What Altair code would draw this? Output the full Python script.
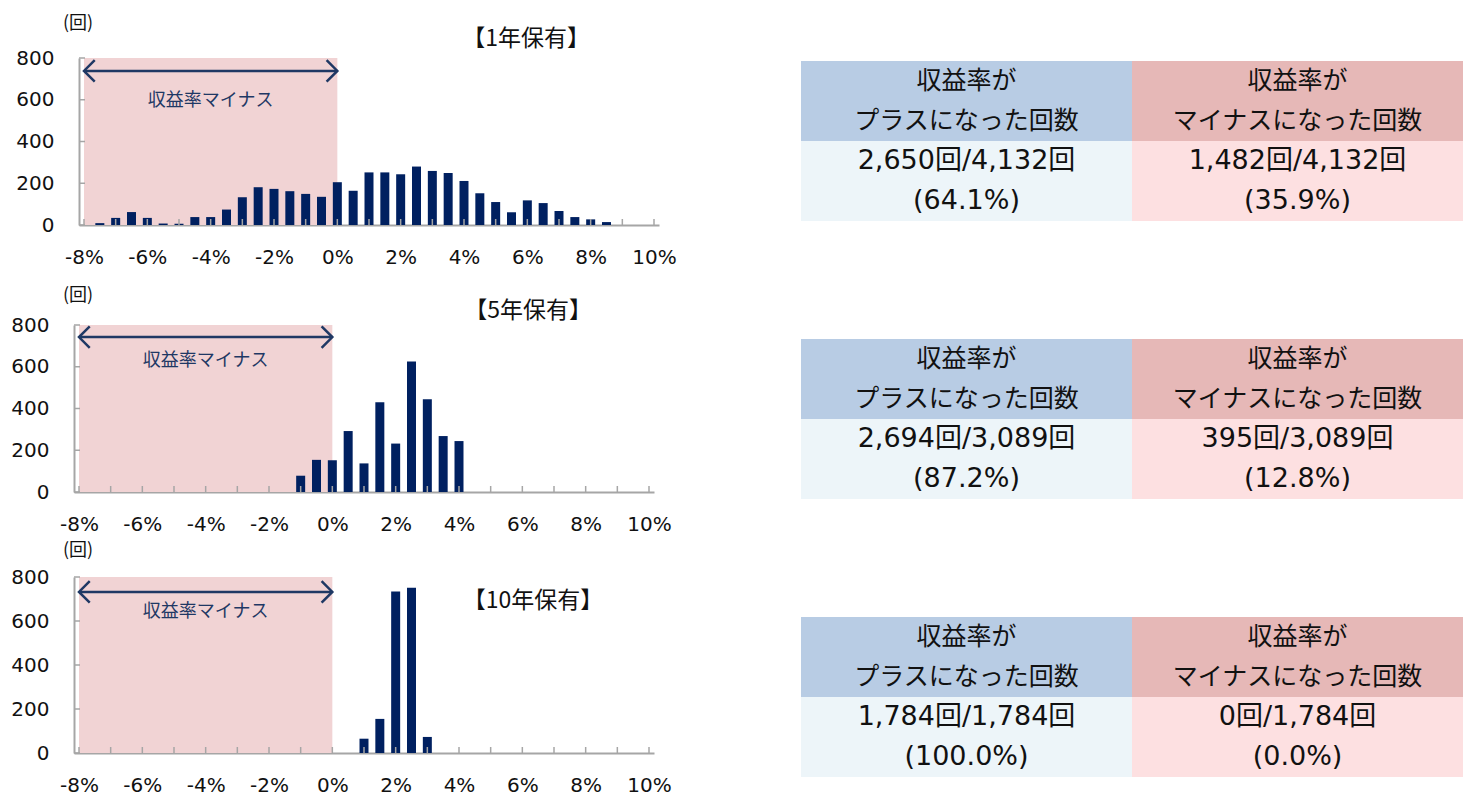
import altair as alt
import pandas as pd

# ---------------- data ----------------
RETURN_BINS_1Y = [-7.5, -7.0, -6.5, -6.0, -5.5, -5.0, -4.5, -4.0, -3.5, -3.0, -2.5,
                  -2.0, -1.5, -1.0, -0.5, 0.0, 0.5, 1.0, 1.5, 2.0, 2.5, 3.0, 3.5,
                  4.0, 4.5, 5.0, 5.5, 6.0, 6.5, 7.0, 7.5, 8.0, 8.5]
COUNTS_1Y = [9, 34, 62, 34, 7, 6, 38, 38, 74, 133, 181, 173, 162, 149, 135, 205,
             164, 252, 252, 243, 280, 259, 249, 211, 152, 110, 61, 118, 105, 67,
             38, 27, 14]

RETURN_BINS_5Y = [-1.0, -0.5, 0.0, 0.5, 1.0, 1.5, 2.0, 2.5, 3.0, 3.5, 4.0]
COUNTS_5Y = [78, 154, 152, 292, 137, 430, 232, 625, 444, 268, 244]

RETURN_BINS_10Y = [1.0, 1.5, 2.0, 2.5, 3.0]
COUNTS_10Y = [65, 155, 734, 751, 73]

X_TICKS = list(range(-8, 11))
X_LABELS = list(range(-8, 11, 2))
Y_TICKS = [0, 200, 400, 600, 800]
NEG_RANGE = [-8, 0]

TITLES = ["【1年保有】", "【5年保有】", "【10年保有】"]
UNIT = "(回)"
NOTE = "収益率マイナス"

PLUS_COUNTS = [2650, 2694, 1784]
MINUS_COUNTS = [1482, 395, 0]
TOTAL_COUNTS = [4132, 3089, 1784]
HEAD_PLUS = "収益率が\nプラスになった回数"
HEAD_MINUS = "収益率が\nマイナスになった回数"

# ---------------- styles ----------------
NAVY = "#002060"
NOTE_NAVY = "#1F3864"
PINK = "#F1D3D4"
AXIS_GRAY = "#A6A6A6"
TXT = "#111111"
FONT_NUM = "DejaVu Sans"
FONT_JP = "Noto Sans CJK JP"
FONT_MIX = "DejaVu Sans, Noto Sans CJK JP"

CELL_KEYS = ["hp", "hm", "bp", "bm"]
CELL_COLORS = ["#B8CCE4", "#E6B8B7", "#EDF5F9", "#FDE0E1"]

SPAN = 580          # pixels for -8%..10%
PLOT_H = [167, 167, 176]


def histogram(bins, counts, title, x_off, top_off, plot_h, arrow_y, note_y,
              unit_pos, title_pos):
    H = top_off + plot_h
    W = x_off + SPAN
    xs = alt.Scale(domain=[-8, 10], range=[x_off, x_off + SPAN], nice=False, zero=False)
    ys = alt.Scale(domain=[0, 800], range=[H, top_off], nice=False)
    x_axis = alt.Axis(values=X_LABELS, labelExpr="datum.value + '%'", ticks=False,
                      tickSize=0, grid=False, domainColor=AXIS_GRAY, domainWidth=2,
                      labelFont=FONT_NUM, labelFontSize=20, labelColor=TXT,
                      labelPadding=22, title=None)
    y_axis = alt.Axis(values=Y_TICKS, ticks=False, tickSize=0, grid=False,
                      domainColor=AXIS_GRAY, domainWidth=2, labelFont=FONT_NUM,
                      labelFontSize=20, labelColor=TXT, labelPadding=25, title=None,
                      offset=-x_off)

    bg_df = pd.DataFrame({"x0": [NEG_RANGE[0]], "x1": [NEG_RANGE[1]],
                          "y0": [Y_TICKS[0]], "y1": [Y_TICKS[-1]]})
    bg = alt.Chart(bg_df).mark_rect(color=PINK).encode(
        x=alt.X("x0:Q", scale=xs, axis=x_axis), x2="x1:Q",
        y=alt.Y("y0:Q", scale=ys, axis=y_axis), y2="y1:Q")

    df = pd.DataFrame({"r": bins, "n": counts})
    bars = alt.Chart(df).mark_bar(color=NAVY, size=9).encode(
        x=alt.X("r:Q", scale=xs, axis=x_axis),
        y=alt.Y("n:Q", scale=ys, axis=y_axis))

    xt = alt.Chart(pd.DataFrame({"t": X_TICKS})).mark_rule(
        color=AXIS_GRAY, strokeWidth=1.5).encode(
        x=alt.X("t:Q", scale=xs, axis=x_axis), y=alt.value(H), y2=alt.value(H - 6))
    yt = alt.Chart(pd.DataFrame({"v": Y_TICKS})).mark_rule(
        color=AXIS_GRAY, strokeWidth=1.5).encode(
        y=alt.Y("v:Q", scale=ys, axis=y_axis), x=alt.value(x_off), x2=alt.value(x_off + 6))

    arr_df = pd.DataFrame({"a": [NEG_RANGE[0]], "b": [NEG_RANGE[1]], "y": [arrow_y]})
    arrow = alt.Chart(arr_df).mark_rule(color=NOTE_NAVY, strokeWidth=2.5).encode(
        x=alt.X("a:Q", scale=xs, axis=x_axis), x2="b:Q",
        y=alt.Y("y:Q", scale=ys, axis=y_axis))
    head_l = alt.Chart(pd.DataFrame({"a": [NEG_RANGE[0]], "y": [arrow_y]})).mark_point(
        shape="M1,-1L0,0L1,1", size=460, filled=False, color=NOTE_NAVY,
        strokeWidth=2.5, opacity=1).encode(
        x=alt.X("a:Q", scale=xs, axis=x_axis), y=alt.Y("y:Q", scale=ys, axis=y_axis))
    head_r = alt.Chart(pd.DataFrame({"a": [NEG_RANGE[1]], "y": [arrow_y]})).mark_point(
        shape="M-1,-1L0,0L-1,1", size=460, filled=False, color=NOTE_NAVY,
        strokeWidth=2.5, opacity=1).encode(
        x=alt.X("a:Q", scale=xs, axis=x_axis), y=alt.Y("y:Q", scale=ys, axis=y_axis))

    note = alt.Chart(pd.DataFrame({"x": [sum(NEG_RANGE) / 2], "y": [note_y], "t": [NOTE]})).mark_text(
        font=FONT_JP, fontSize=18, color=NOTE_NAVY).encode(
        x=alt.X("x:Q", scale=xs, axis=x_axis), y=alt.Y("y:Q", scale=ys, axis=y_axis),
        text="t:N")

    unit = alt.Chart(pd.DataFrame({"t": [UNIT]})).mark_text(
        font=FONT_JP, fontSize=18, color=TXT).encode(
        x=alt.value(unit_pos[0]), y=alt.value(top_off + unit_pos[1]), text="t:N")
    ttl = alt.Chart(pd.DataFrame({"t": [title]})).mark_text(
        font=FONT_JP, fontSize=23, color=TXT).encode(
        x=alt.value(title_pos[0]), y=alt.value(top_off + title_pos[1]), text="t:N")

    return alt.layer(bg, bars, xt, yt, arrow, head_l, head_r, note, unit, ttl).properties(
        width=W, height=H)


def table(plus, minus, total, top_off):
    body_p = f"{plus:,}回/{total:,}回\n({plus / total * 100:.1f}%)"
    body_m = f"{minus:,}回/{total:,}回\n({minus / total * 100:.1f}%)"
    df = pd.DataFrame({
        "col": ["plus", "minus", "plus", "minus"],
        "row": ["head", "head", "body", "body"],
        "key": CELL_KEYS,
        "label": [HEAD_PLUS, HEAD_MINUS, body_p, body_m],
    })
    base = alt.Chart(df).encode(
        x=alt.X("col:N", sort=["plus", "minus"],
                scale=alt.Scale(paddingInner=0, paddingOuter=0), axis=None),
        y=alt.Y("row:N", sort=["head", "body"],
                scale=alt.Scale(range=[top_off, top_off + 160], paddingInner=0,
                                paddingOuter=0), axis=None))
    rect = base.mark_rect().encode(
        color=alt.Color("key:N", scale=alt.Scale(domain=CELL_KEYS, range=CELL_COLORS),
                        legend=None))
    txt = base.mark_text(font=FONT_MIX, color=TXT, lineBreak="\n",
                         lineHeight=40, baseline="middle", dy=-20).encode(
        text="label:N",
        size=alt.Size("row:N", scale=alt.Scale(domain=["head", "body"], range=[25, 27]),
                      legend=None))
    return alt.layer(rect, txt).properties(width=662, height=top_off + 160)


h1 = histogram(RETURN_BINS_1Y, COUNTS_1Y, TITLES[0], 5, 0, PLOT_H[0], 738, 594, (4, -34), (452, -19))
h2 = histogram(RETURN_BINS_5Y, COUNTS_5Y, TITLES[1], 0, 100, PLOT_H[1], 742, 627, (4, -29), (454, -14))
h3 = histogram(RETURN_BINS_10Y, COUNTS_10Y, TITLES[2], 0, 78, PLOT_H[2], 732, 641, (4, -26), (459, 24))

t1 = table(PLUS_COUNTS[0], MINUS_COUNTS[0], TOTAL_COUNTS[0], 3)
t2 = table(PLUS_COUNTS[1], MINUS_COUNTS[1], TOTAL_COUNTS[1], 114)
t3 = table(PLUS_COUNTS[2], MINUS_COUNTS[2], TOTAL_COUNTS[2], 118)

chart = alt.concat(h1, t1, h2, t2, h3, t3, columns=2, align="each", bounds="flush",
                   spacing={"row": 0, "column": 142}).properties(
    padding={"left": 2, "top": 7, "right": 0, "bottom": 0}
).configure_view(stroke=None)

chart.save("out.html", embed_options={"renderer": "svg", "actions": False})
